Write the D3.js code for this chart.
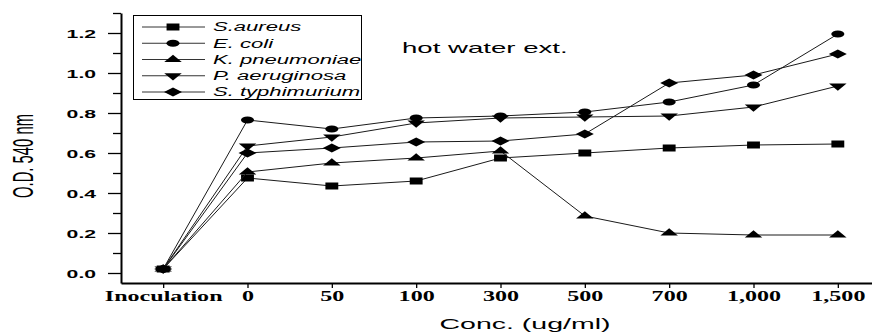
<!DOCTYPE html>
<html>
<head>
<meta charset="utf-8">
<script src="https://cdn.jsdelivr.net/npm/d3@7"></script>
<style>
  html, body { margin: 0; padding: 0; background: #fff; }
  svg { display: block; }
</style>
</head>
<body>
<div id="chart"></div>
<script>
// data
const categories = ['Inoculation', '0', '50', '100', '300', '500', '700', '1,000', '1,500'];
const sAureus      = [0.02, 0.475, 0.435, 0.46, 0.575, 0.60, 0.625, 0.64, 0.645];
const eColi        = [0.02, 0.765, 0.72, 0.775, 0.785, 0.805, 0.855, 0.94, 1.195];
const kPneumoniae  = [0.02, 0.505, 0.55, 0.575, 0.61, 0.285, 0.20, 0.19, 0.19];
const pAeruginosa  = [0.02, 0.635, 0.68, 0.75, 0.775, 0.78, 0.785, 0.83, 0.935];
const sTyphimurium = [0.02, 0.60, 0.625, 0.655, 0.66, 0.695, 0.95, 0.99, 1.095];
const seriesNames  = ['S.aureus', 'E. coli', 'K. pneumoniae', 'P. aeruginosa', 'S. typhimurium'];
const yMajorTicks  = [0, 0.2, 0.4, 0.6, 0.8, 1.0, 1.2];
const yMinorTicks  = [0.1, 0.3, 0.5, 0.7, 0.9, 1.1, 1.3];

const width = 872, height = 333;
const sx = 1.84; // the original figure is stretched horizontally

// custom wide diamond
const wideDiamond = {
    draw(ctx, size) {
        const h = Math.sqrt(size) / 2;
        ctx.moveTo(0, -h);
        ctx.lineTo(h, 0);
        ctx.lineTo(0, h);
        ctx.lineTo(-h, 0);
        ctx.closePath();
    }
};

const markers = [
    { type: d3.symbolSquare,   size: 49, scale: [sx, 1] },
    { type: d3.symbolCircle,   size: 40, scale: [sx, 1] },
    { type: d3.symbolTriangle, size: 30, scale: [2.1, 1] },
    { type: d3.symbolTriangle, size: 30, scale: [2.1, -1] },
    { type: wideDiamond,       size: 81, scale: [2.0, 1] }
];

const series = [sAureus, eColi, kPneumoniae, pAeruginosa, sTyphimurium].map((values, i) => ({
    name: seriesNames[i],
    values: values,
    marker: markers[i]
}));

const svg = d3.select('#chart')
    .append('svg')
    .attr('width', width)
    .attr('height', height);

const x = d3.scalePoint()
    .domain(categories)
    .range([121, 880])
    .padding(0.5);

const y = d3.scaleLinear()
    .domain([-0.05, 1.3])
    .range([283, 13]);

// stretched text helper
function stretchText(sel, k) {
    sel.each(function () {
        const t = d3.select(this);
        const tx = +t.attr('x') || 0;
        t.attr('x', tx / k).attr('transform', `scale(${k},1)`);
    });
}

// y axis, minor ticks
svg.append('g')
    .attr('transform', 'translate(121,0)')
    .call(d3.axisLeft(y).tickValues(yMinorTicks).tickSize(8).tickFormat(''))
    .call(g => g.select('.domain').remove())
    .call(g => g.selectAll('.tick line').attr('stroke', '#000').attr('stroke-width', 1.3));

// y axis, major ticks
const yAxis = svg.append('g')
    .attr('transform', 'translate(121,0)')
    .call(d3.axisLeft(y).tickValues(yMajorTicks).tickSize(13).tickSizeOuter(0).tickFormat(d3.format('.1f')));

yAxis.select('.domain').attr('stroke', '#000').attr('stroke-width', 2);
yAxis.selectAll('.tick line').attr('stroke', '#000').attr('stroke-width', 1.3);
yAxis.selectAll('.tick text')
    .attr('x', -25)
    .attr('dy', '0.36em')
    .style('font-family', '"Liberation Sans", Arial, sans-serif')
    .style('font-weight', 'bold')
    .style('font-size', '11.5px')
    .attr('fill', '#000')
    .call(stretchText, sx);

// x axis
const xAxis = svg.append('g')
    .attr('transform', 'translate(0,283)')
    .call(d3.axisBottom(x).tickSize(5).tickSizeOuter(0));

xAxis.select('.domain').attr('stroke', '#000').attr('stroke-width', 2);
xAxis.selectAll('.tick line').attr('stroke', '#000').attr('stroke-width', 1.3);
xAxis.selectAll('.tick text')
    .attr('y', 18.5)
    .attr('dy', 0)
    .style('font-family', '"Liberation Serif", "Times New Roman", serif')
    .style('font-weight', 'bold')
    .style('font-size', '14px')
    .attr('fill', '#000')
    .call(stretchText, 1.72);

// axis titles
svg.append('text')
    .attr('text-anchor', 'middle')
    .attr('transform', `scale(${sx},1) translate(${525 / sx},329)`)
    .style('font-family', '"Liberation Sans", Arial, sans-serif')
    .style('font-size', '15.5px')
    .text('Conc. (ug/ml)');

svg.append('text')
    .attr('text-anchor', 'middle')
    .attr('transform', 'translate(33,156) rotate(-90)')
    .attr('textLength', 84)
    .attr('lengthAdjust', 'spacingAndGlyphs')
    .style('font-family', '"Liberation Sans", Arial, sans-serif')
    .style('font-size', '29px')
    .text('O.D. 540 nm');

svg.append('text')
    .attr('transform', `scale(${sx},1) translate(${402 / sx},53)`)
    .style('font-family', '"Liberation Sans", Arial, sans-serif')
    .style('font-size', '15px')
    .text('hot water ext.');

// lines
const line = d3.line()
    .x((d, i) => x(categories[i]))
    .y(d => y(d));

const symbolGen = d3.symbol();

const groups = svg.append('g')
    .selectAll('g')
    .data(series)
    .join('g');

groups.append('path')
    .attr('fill', 'none')
    .attr('stroke', '#1a1a1a')
    .attr('stroke-width', 1)
    .attr('d', d => line(d.values));

groups.each(function (s) {
    d3.select(this).selectAll('path.marker')
        .data(s.values)
        .join('path')
        .attr('class', 'marker')
        .attr('fill', '#000')
        .attr('d', symbolGen.type(s.marker.type).size(s.marker.size)())
        .attr('transform', (d, i) => `translate(${x(categories[i])},${y(d)}) scale(${s.marker.scale[0]},${s.marker.scale[1]})`);
});

// legend
const legend = svg.append('g');

legend.append('rect')
    .attr('x', 133.5)
    .attr('y', 15.5)
    .attr('width', 228)
    .attr('height', 84)
    .attr('fill', '#fff')
    .attr('stroke', '#000')
    .attr('stroke-width', 1);

const rowY = d3.scalePoint()
    .domain(seriesNames)
    .range([27, 92]);

const items = legend.selectAll('g.item')
    .data(series)
    .join('g')
    .attr('class', 'item')
    .attr('transform', d => `translate(0,${rowY(d.name)})`);

items.append('line')
    .attr('x1', 142)
    .attr('x2', 205)
    .attr('stroke', '#333')
    .attr('stroke-width', 1);

items.append('path')
    .attr('fill', '#000')
    .attr('d', d => symbolGen.type(d.marker.type).size(d.marker.size)())
    .attr('transform', d => `translate(173,0) scale(${d.marker.scale[0]},${d.marker.scale[1]})`);

items.append('text')
    .attr('x', 213 / sx)
    .attr('y', 4.3)
    .attr('transform', `scale(${sx},1)`)
    .style('font-family', '"Liberation Sans", Arial, sans-serif')
    .style('font-style', 'italic')
    .style('font-size', '12px')
    .text(d => d.name);
</script>
</body>
</html>
